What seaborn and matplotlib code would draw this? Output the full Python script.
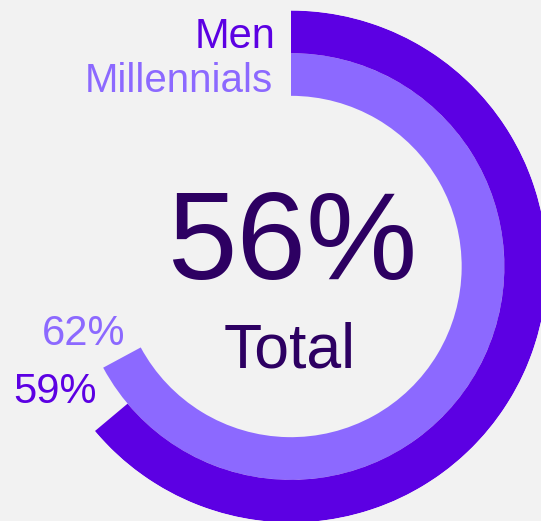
import numpy as np
import pandas as pd
import seaborn as sns
import matplotlib.pyplot as plt


groups = ['Millennials', 'Men']
shares = [62, 59]
total_share = 56
total_label = 'Total'
ring_colors = ['#8c69ff', '#5c00e3']
text_dark = '#2d0062'

# value that corresponds to one full turn of the ring
FULL_SCALE = 92.35

W, H = 541, 521


def px(x, y):
    # image pixel (from top left) -> figure fraction
    return x / W, 1 - y / H


df = pd.DataFrame({'group': groups, 'share': shares})
df['theta'] = df['share'] / FULL_SCALE * 2 * np.pi

sns.set_theme(style='white')
plt.rcParams['font.family'] = ['Liberation Sans', 'DejaVu Sans']

fig = plt.figure(figsize=(W / 100, H / 100), dpi=100, facecolor='#f2f2f2')
ax = fig.add_axes([35 / W, -1.5 / H, 512 / W, 512 / H], projection='polar')

sns.barplot(data=df, x='theta', y='group', hue='group', order=groups,
            palette=dict(zip(groups, ring_colors)), orient='h', width=1.0,
            dodge=False, saturation=1, linewidth=0, legend=False,
            errorbar=None, ax=ax)

ax.set_theta_zero_location('N')
ax.set_theta_direction(-1)
ax.set_xlim(0, 2 * np.pi)
ax.set_ylim(-4.5, 1.5)
ax.set_axis_off()

# ring names next to the start of each ring
name_pos = {'Men': (275, 47.7), 'Millennials': (273, 92)}
name_size = {'Men': 30, 'Millennials': 29}
# value labels next to the end of each ring
value_pos = {'Men': (97, 403), 'Millennials': (125, 345)}

for g, s, c in zip(groups, shares, ring_colors):
    fig.text(*px(*name_pos[g]), g, ha='right', va='baseline', fontsize=name_size[g], color=c)
    fig.text(*px(*value_pos[g]), f'{s}%', ha='right', va='baseline', fontsize=30, color=c)

fig.text(*px(292, 279), f'{total_share}%', ha='center', va='baseline', fontsize=90, color=text_dark)
fig.text(*px(290, 367), total_label, ha='center', va='baseline', fontsize=45, color=text_dark)

fig.savefig('out.png', dpi=100, facecolor=fig.get_facecolor())
